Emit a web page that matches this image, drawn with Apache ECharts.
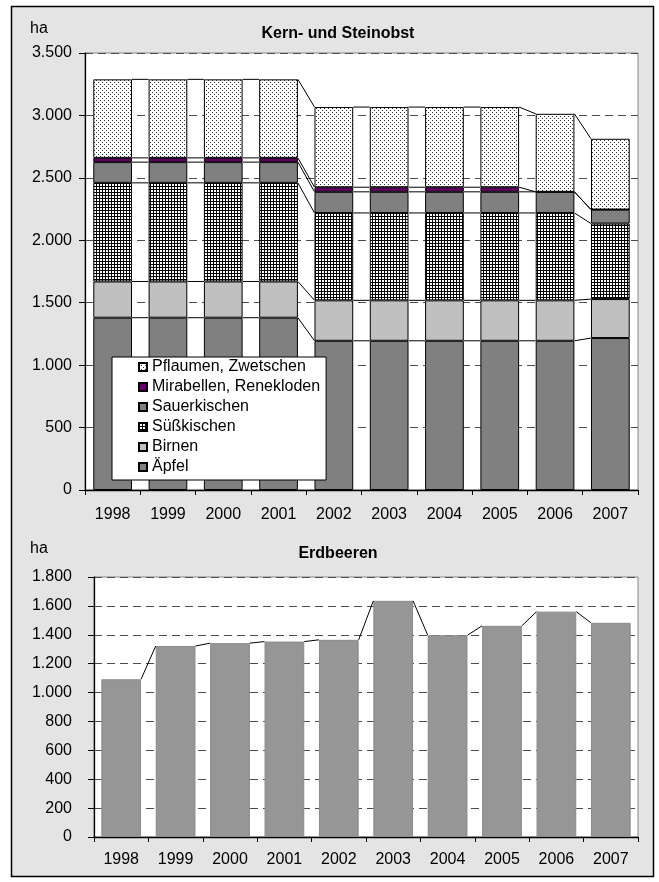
<!DOCTYPE html>
<html>
<head>
<meta charset="utf-8">
<script src="https://cdn.jsdelivr.net/npm/echarts@6/dist/echarts.min.js"></script>
<style>
html,body{margin:0;padding:0;background:#fff;}
#c{width:659px;height:882px;}
</style>
</head>
<body>
<div id="c"></div>
<script>
const categories = ['1998','1999','2000','2001','2002','2003','2004','2005','2006','2007'];
const aepfel     = [1380,1380,1380,1380,1195,1195,1195,1195,1195,1217];
const birnen     = [290,290,290,290,324,324,324,324,324,312];
const suesskirschen = [790,790,790,790,700,700,700,700,700,605];
const sauerkirschen = [166,166,166,166,169,169,169,169,169,112];
const mirabellen = [34,34,34,34,37,37,37,37,0,0];
const pflaumen   = [629,629,629,629,642,642,642,642,625,567];
const erdbeeren  = [1092,1322,1342,1353,1365,1635,1397,1462,1560,1483];
const namesTop = ['Äpfel','Birnen','Süßkischen','Sauerkischen','Mirabellen, Renekloden','Pflaumen, Zwetschen'];
const titleTop = 'Kern- und Steinobst';
const titleBottom = 'Erdbeeren';
const unitLabel = 'ha';

const FONT = '"Liberation Sans", Arial, sans-serif';

function fmt(v){ return String(v).replace(/\B(?=(\d{3})+(?!\d))/g,'.'); }

function dotPattern(){
  const c = document.createElement('canvas'); c.width = 4; c.height = 4;
  const g = c.getContext('2d'); g.fillStyle = '#fff'; g.fillRect(0,0,4,4);
  g.fillStyle = '#333'; g.fillRect(0,0,1,1); g.fillRect(2,2,1,1);
  return {image: c, repeat: 'repeat'};
}
function gridPattern(){
  const c = document.createElement('canvas'); c.width = 3; c.height = 3;
  const g = c.getContext('2d'); g.fillStyle = '#fff'; g.fillRect(0,0,3,3);
  g.fillStyle = '#000'; g.fillRect(0,0,3,1); g.fillRect(0,0,1,3);
  return {image: c, repeat: 'repeat'};
}

const topValues = [aepfel, birnen, suesskirschen, sauerkirschen, mirabellen, pflaumen];
const topColors = ['#808080', '#c0c0c0', gridPattern(), '#808080', '#660066', dotPattern()];

const cumTop = [];
topValues.forEach((arr, k) => {
  cumTop.push(arr.map((v, i) => (k ? cumTop[k-1][i] : 0) + v));
});

const TOP_BAR_FRAC = 0.70;
const BOT_BAR_FRAC = 0.73;

function seriesLines(levels, frac){
  return function(params, api){
    const i = api.value(0);
    if (i >= categories.length - 1) return;
    const half = api.size([1, 0])[0] * frac / 2;
    const children = levels.map(cum => {
      const p1 = api.coord([i, cum[i]]);
      const p2 = api.coord([i + 1, cum[i + 1]]);
      return {type: 'line', shape: {x1: p1[0] + half, y1: p1[1], x2: p2[0] - half, y2: p2[1]},
              style: {stroke: '#000', lineWidth: 1}};
    });
    return {type: 'group', children};
  };
}

const axisLabelStyle = {color: '#000', fontFamily: FONT, fontSize: 16};

const series = topValues.map((arr, k) => ({
  name: namesTop[k], type: 'bar', stack: 'top', xAxisIndex: 0, yAxisIndex: 0,
  data: arr, barCategoryGap: '30%',
  itemStyle: {color: topColors[k], borderColor: '#000', borderWidth: 1},
  emphasis: {disabled: true}
}));
series.push({
  type: 'custom', xAxisIndex: 0, yAxisIndex: 0, z: 3, silent: true,
  data: categories.map((c, i) => [i, 0]),
  renderItem: seriesLines(cumTop, TOP_BAR_FRAC)
});
series.push({
  name: titleBottom, type: 'bar', xAxisIndex: 1, yAxisIndex: 1, data: erdbeeren,
  barCategoryGap: '27%',
  itemStyle: {color: '#969696', borderColor: '#8a8a8a', borderWidth: 1},
  emphasis: {disabled: true}
});
series.push({
  type: 'custom', xAxisIndex: 1, yAxisIndex: 1, z: 3, silent: true,
  data: categories.map((c, i) => [i, 0]),
  renderItem: seriesLines([erdbeeren], BOT_BAR_FRAC)
});

function yAxis(gridIndex, max, interval, margin){
  return {
    type: 'value', gridIndex, min: 0, max, interval,
    axisLine: {show: true, lineStyle: {color: '#000', width: 1.3}},
    axisTick: {show: true, length: 6, lineStyle: {color: '#000'}},
    axisLabel: Object.assign({margin, formatter: fmt}, axisLabelStyle),
    splitLine: {show: true, lineStyle: {color: '#4d4d4d', type: [8, 5], width: 1}}
  };
}
function xAxis(gridIndex, margin){
  return {
    type: 'category', gridIndex, data: categories,
    axisLine: {show: true, lineStyle: {color: '#000', width: 1.3}},
    axisTick: {show: true, length: 5, lineStyle: {color: '#000'}},
    axisLabel: Object.assign({margin, interval: 0}, axisLabelStyle),
    splitLine: {show: false}
  };
}

const chart = echarts.init(document.getElementById('c'), null, {renderer: 'canvas'});
chart.setOption({
  animation: false,
  backgroundColor: '#fff',
  graphic: [
    {type: 'rect', shape: {x: 11.5, y: 6.5, width: 642, height: 870}, z: -10,
     style: {fill: '#e4e4e4', stroke: '#000', lineWidth: 1.5}},
    {type: 'text', left: 30, top: 21, style: {text: unitLabel, font: '16px ' + FONT, fill: '#000'}},
    {type: 'text', left: 30, top: 541, style: {text: unitLabel, font: '16px ' + FONT, fill: '#000'}}
  ],
  title: [
    {text: titleTop, left: 333, top: 21, textAlign: 'center',
     textStyle: {fontFamily: FONT, fontSize: 16, fontWeight: 'bold', color: '#000'}},
    {text: titleBottom, left: 333, top: 541, textAlign: 'center',
     textStyle: {fontFamily: FONT, fontSize: 16, fontWeight: 'bold', color: '#000'}}
  ],
  legend: {
    data: namesTop.slice().reverse(),
    orient: 'vertical', left: 112, top: 357,
    backgroundColor: '#fff', borderColor: '#000', borderWidth: 1,
    padding: [2, 6, 5, 26],
    itemWidth: 8, itemHeight: 8, itemGap: 4,
    icon: 'rect',
    selectedMode: false,
    textStyle: {fontFamily: FONT, fontSize: 16, color: '#000', lineHeight: 16}
  },
  grid: [
    {left: 85, right: 21, top: 53, bottom: 392, show: true, backgroundColor: '#fff', borderColor: '#888', borderWidth: 1},
    {left: 94, right: 21, top: 577, bottom: 45, show: true, backgroundColor: '#fff', borderColor: '#888', borderWidth: 1}
  ],
  xAxis: [xAxis(0, 17), xAxis(1, 15)],
  yAxis: [yAxis(0, 3500, 500, 13), yAxis(1, 1800, 200, 22)],
  series
});
</script>
</body>
</html>
